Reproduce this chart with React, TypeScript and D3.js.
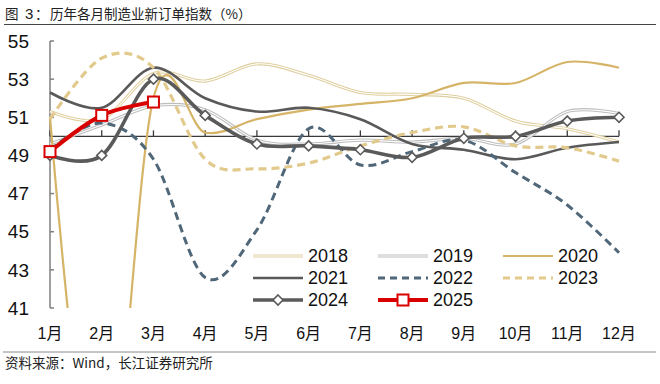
import * as d3 from "d3";

const months = ["1月", "2月", "3月", "4月", "5月", "6月", "7月", "8月", "9月", "10月", "11月", "12月"];
const yTicks = [41, 43, 45, 47, 49, 51, 53, 55];

const s2018 = [51.3, 50.9, 53.3, 52.9, 53.8, 53.2, 52.3, 52.2, 52.0, 50.8, 50.4, 49.7];
const s2019 = [49.6, 50.6, 51.6, 51.4, 49.8, 49.6, 49.8, 49.7, 49.9, 49.6, 51.3, 51.2];
const s2020 = [51.0, 29.3, 52.0, 50.2, 50.9, 51.4, 51.7, 52.0, 52.8, 52.8, 53.9, 53.6];
const s2021 = [52.3, 51.5, 53.6, 52.0, 51.3, 51.5, 50.9, 49.6, 49.3, 48.8, 49.4, 49.7];
const s2022 = [49.3, 50.7, 48.8, 42.6, 45.1, 50.4, 48.5, 49.2, 49.8, 48.1, 46.4, 43.9];
const s2023 = [50.9, 54.1, 53.6, 48.8, 48.3, 48.6, 49.5, 50.2, 50.5, 49.5, 49.4, 48.7];
const s2024 = [49.0, 49.0, 53.0, 51.1, 49.6, 49.5, 49.3, 48.9, 49.9, 50.0, 50.8, 51.0];
const s2025 = [49.2, 51.1, 51.8];

type Series = {
  name: string;
  values: number[];
  color: string;
  width: number;
  dash?: string;
  inner?: string; // double line
  marker?: "diamond" | "square";
};

const series: Series[] = [
  { name: "2018", values: s2018, color: "#dfcf9f", width: 3.2, inner: "#ffffff" },
  { name: "2019", values: s2019, color: "#bdbdbd", width: 3.2, inner: "#ffffff" },
  { name: "2020", values: s2020, color: "#d6b467", width: 2.2 },
  { name: "2021", values: s2021, color: "#595959", width: 2.6 },
  { name: "2022", values: s2022, color: "#4f6778", width: 3, dash: "8,5" },
  { name: "2023", values: s2023, color: "#e2c98c", width: 3.2, dash: "8,5" },
  { name: "2024", values: s2024, color: "#5a5a5a", width: 3.6, marker: "diamond" },
  { name: "2025", values: s2025, color: "#d90000", width: 4, marker: "square" },
];

const left = 50;
const right = 619;
const top = 41;
const bottom = 308;

const numFont = "'Liberation Sans', Arial, 'Noto Sans CJK SC', sans-serif";
const cjkFont = "'Noto Sans CJK SC', 'Liberation Sans', sans-serif";

function Marker({ type, x, y, color }: { type?: string; x: number; y: number; color: string }) {
  if (type === "diamond") {
    const r = 5;
    return (
      <path
        d={`M${x},${y - r}L${x + r},${y}L${x},${y + r}L${x - r},${y}Z`}
        fill="#fff"
        stroke={color}
        strokeWidth={1.6}
      />
    );
  }
  if (type === "square") {
    const r = 5.5;
    return <rect x={x - r} y={y - r} width={r * 2} height={r * 2} fill="#fff" stroke={color} strokeWidth={2} />;
  }
  return null;
}

export default function App() {
  const x = d3.scalePoint<string>().domain(months).range([left, right]);
  const y = d3.scaleLinear().domain([41, 55]).range([bottom, top]);
  const line = d3
    .line<number>()
    .x((_, i) => x(months[i]) as number)
    .y((d) => y(d))
    .curve(d3.curveCardinal.tension(0));

  const legendCols = [253, 378, 503];
  const legendRows = [256, 278, 300];

  return (
    <div>
      <style>{"body{margin:0}"}</style>
      <svg width={660} height={384} style={{ display: "block" }}>
        <rect width={660} height={384} fill="#fff" />
        <g fontSize={13.5} fontFamily={cjkFont} fill="#222">
          <text x={5} y={19}>图</text>
          <text x={25} y={19} fontFamily={numFont} fontSize={15}>3</text>
          <text x={35} y={19}>：</text>
          <text x={50} y={19}>历年各月制造业新订单指数（%）</text>
        </g>
        <line x1={4} x2={656} y1={24.5} y2={24.5} stroke="#444" strokeWidth={1.2} />

        <defs>
          <clipPath id="plot">
            <rect x={left - 2} y={top - 5} width={right - left + 10} height={bottom - top + 5} />
          </clipPath>
        </defs>

        {/* y axis */}
        <line x1={left} x2={left} y1={top} y2={bottom} stroke="#7f7f7f" strokeWidth={1.5} />
        {yTicks.map((t) => (
          <g key={t}>
            <line x1={left} x2={left + 4} y1={y(t)} y2={y(t)} stroke="#7f7f7f" strokeWidth={1.5} />
            <text
              x={29}
              y={y(t)}
              dy="0.35em"
              textAnchor="end"
              fontSize={19}
              fontFamily={numFont}
              fill="#111"
            >
              {t}
            </text>
          </g>
        ))}

        {/* x axis at 50 */}
        <line x1={left} x2={right} y1={y(50)} y2={y(50)} stroke="#3a3a3a" strokeWidth={1.3} />
        {months.map((m) => (
          <g key={m}>
            <line x1={x(m)} x2={x(m)} y1={y(50)} y2={y(50) - 6} stroke="#3a3a3a" strokeWidth={1.3} />
            <text
              x={x(m)}
              y={339}
              textAnchor="middle"
              fontSize={16}
              fontFamily={numFont}
              fill="#111"
            >
              {m}
            </text>
          </g>
        ))}

        <g clipPath="url(#plot)">
          {series.map((s) => (
            <g key={s.name}>
              <path
                d={line(s.values) || ""}
                fill="none"
                stroke={s.color}
                strokeWidth={s.width}
                strokeDasharray={s.dash}
                strokeLinejoin="round"
              />
              {s.inner && (
                <path d={line(s.values) || ""} fill="none" stroke={s.inner} strokeWidth={1.1} />
              )}
            </g>
          ))}
        </g>
        {series
          .filter((s) => s.marker)
          .map((s) =>
            s.values.map((v, i) => (
              <Marker key={s.name + i} type={s.marker} x={x(months[i]) as number} y={y(v)} color={s.color} />
            ))
          )}

        {/* legend */}
        {series.map((s, i) => {
          const lx = legendCols[i % 3];
          const ly = legendRows[Math.floor(i / 3)];
          return (
            <g key={"lg" + s.name}>
              <line
                x1={lx}
                x2={lx + 50}
                y1={ly}
                y2={ly}
                stroke={s.color}
                strokeWidth={s.width}
                strokeDasharray={s.dash ? "7,5" : undefined}
              />
              {s.inner && <line x1={lx} x2={lx + 50} y1={ly} y2={ly} stroke={s.inner} strokeWidth={1.1} />}
              <Marker type={s.marker} x={lx + 25} y={ly} color={s.color} />
              <text x={lx + 55} y={ly} dy="0.36em" fontSize={18} fontFamily={numFont} fill="#111">
                {s.name}
              </text>
            </g>
          );
        })}

        <line x1={3} x2={656} y1={352} y2={352} stroke="#8a8a8a" strokeWidth={1} />
        <text x={5} y={368} fontSize={13.5} fontFamily={cjkFont} fill="#222">
          资料来源：Wind，长江证券研究所
        </text>
      </svg>
    </div>
  );
}
